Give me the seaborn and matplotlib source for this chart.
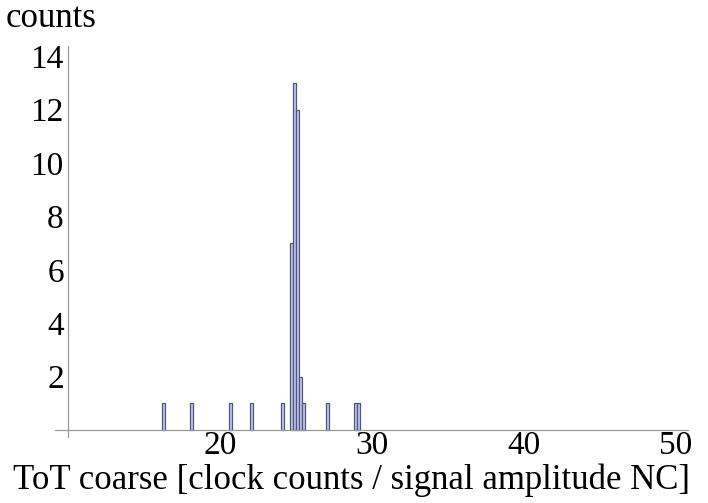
import numpy as np
import pandas as pd
import matplotlib
matplotlib.use("Agg")
import matplotlib.pyplot as plt
import seaborn as sns
from matplotlib.ticker import MultipleLocator, FixedLocator

# bin centres (bin width 0.2) and counts
tot_values = [16.3, 18.1, 20.7, 22.1, 24.1, 24.7, 24.9, 25.1, 25.3, 25.5, 27.1, 28.9, 29.1]
tot_counts = [1, 1, 1, 1, 1, 7, 13, 12, 2, 1, 1, 1, 1]
bin_width = 0.2

x_major = [20, 30, 40, 50]
y_major = [2, 4, 6, 8, 10, 12, 14]

sns.set_style("white")
plt.rcParams['font.family'] = 'serif'
plt.rcParams['font.serif'] = ['Liberation Serif', 'DejaVu Serif']
plt.rcParams['text.color'] = 'black'

df = pd.DataFrame({"tot": tot_values, "n": tot_counts})

fig = plt.figure(figsize=(7.08, 5.03), dpi=100)
ax = fig.add_axes([55 / 708, 1 - 436.7 / 503, (688 - 55) / 708, (436.7 - 45.5) / 503])

sns.histplot(data=df, x="tot", weights="n", binwidth=bin_width, binrange=(16.2, 29.2),
             ax=ax, color="#c3c8ee", edgecolor="#50557f", linewidth=0.9, alpha=1)
for p in list(ax.patches):
    if p.get_height() == 0:
        p.remove()

ax.set_xlim(9.15, 50.8)
ax.set_ylim(-0.25, 14.4)

for s in ["top", "right"]:
    ax.spines[s].set_visible(False)
ax.spines["left"].set_position(("data", 10))
ax.spines["bottom"].set_position(("data", 0))
for s in ["left", "bottom"]:
    ax.spines[s].set_color("#9a9a9a")
    ax.spines[s].set_linewidth(0.9)

ax.xaxis.set_major_locator(FixedLocator(x_major))
ax.xaxis.set_minor_locator(MultipleLocator(2))
ax.yaxis.set_major_locator(FixedLocator(y_major))
ax.yaxis.set_minor_locator(MultipleLocator(0.5))
ax.tick_params(which="both", direction="in", color="#9a9a9a", width=0.8,
               labelsize=24, labelcolor="black")
ax.tick_params(which="major", length=6)
ax.tick_params(which="minor", length=3)
ax.tick_params(axis="x", pad=0)
ax.tick_params(axis="y", pad=3)

ax.set_xlabel("")
ax.set_ylabel("")
fig.text(0.008, 0.996, "counts", fontsize=25, ha="left", va="top", color="black")
fig.text(0.497, 0.028, "ToT coarse [clock counts / signal amplitude NC]",
         fontsize=25, ha="center", va="baseline", color="black")

fig.savefig("out.png", dpi=100)
